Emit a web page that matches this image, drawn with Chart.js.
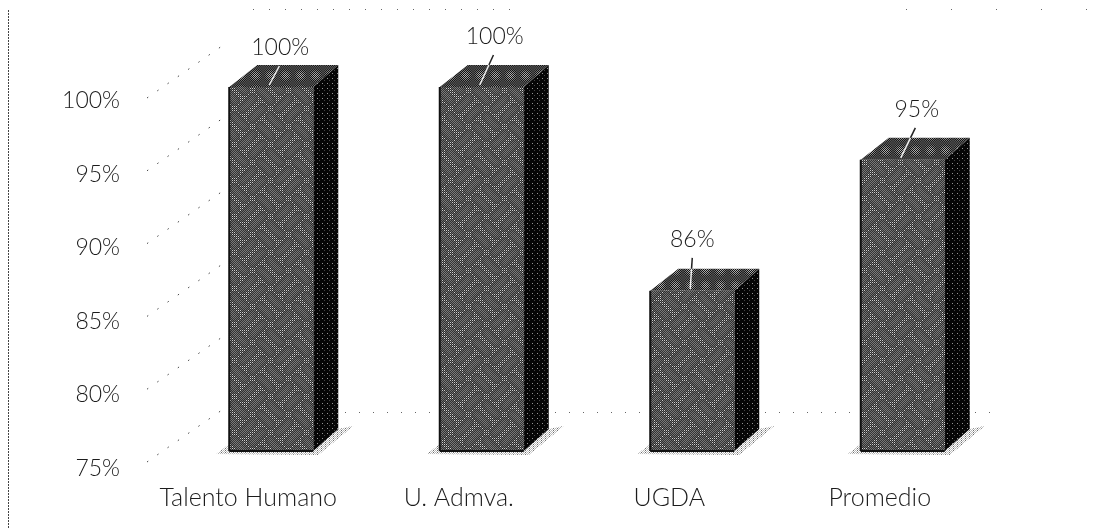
<!DOCTYPE html>
<html>
<head>
<meta charset="utf-8">
<style>
  html, body { margin: 0; padding: 0; background: #fff; }
  #wrap { width: 1115px; height: 529px; }
</style>
<script src="https://cdn.jsdelivr.net/npm/chart.js@4"></script>
</head>
<body>
<div id="wrap"><canvas id="barChart" width="1115" height="529"></canvas></div>
<script>
const categories = ['Talento Humano', 'U. Admva.', 'UGDA', 'Promedio'];
const values = [100, 100, 86, 95];
const tickValues = [75, 80, 85, 90, 95, 100];

const FONT = '300 23px Lato';
const TEXT = '#1c1c1c';
const DEPTH_X = 25;
const DEPTH_Y = 22;
// where each value label sits relative to the top front edge of its bar
const labelShift = [[9, -39], [13, -50], [0, -51], [14, -50]];

/* Halftone fills */
function makeTile(size, shade) {
  const c = document.createElement('canvas');
  c.width = c.height = size;
  const g = c.getContext('2d');
  const img = g.createImageData(size, size);
  for (let y = 0; y < size; y++) {
    for (let x = 0; x < size; x++) {
      const v = shade(x, y);
      const i = (y * size + x) * 4;
      img.data[i] = img.data[i + 1] = img.data[i + 2] = v;
      img.data[i + 3] = 255;
    }
  }
  g.putImageData(img, 0, 0);
  return g.createPattern(c, 'repeat');
}

const tau = Math.PI * 2;
const ctx = document.getElementById('barChart').getContext('2d');

// wavy cells: light specks follow the cell borders, grey tone fills the middle
const frontFill = makeTile(72, (x, y) => {
  const e = Math.sin(tau * x / 36 + 1.2 * Math.sin(tau * y / 36)) *
            Math.sin(tau * y / 36 + 1.2 * Math.sin(tau * x / 36));
  if (Math.abs(e) < 0.2 && x % 2 === 0 && y % 2 === 0) return 205;
  return (x + y) % 2 ? 42 + 12 * Math.abs(e) : 98 + 26 * Math.abs(e);
});
const sideFill = makeTile(15, (x, y) => {
  if (x % 5 === 2 && y % 5 === 3) return 150;
  if (x % 5 === 4 && y % 5 === 0) return 70;
  return 6;
});
const topFill = makeTile(60, (x, y) => {
  const f = tau * 28 / 60;
  const s = Math.cos(f * x) * Math.cos(f * y);
  return Math.max(16, Math.min(210, 62 + 120 * s));
});
const shadowFill = makeTile(4, (x, y) => {
  if ((x + y) % 2 === 0) return 255;
  return x % 4 === 1 ? 110 : 185;
});

function polygon(c, pts, fill) {
  c.beginPath();
  pts.forEach((p, i) => (i ? c.lineTo(p[0], p[1]) : c.moveTo(p[0], p[1])));
  c.closePath();
  c.fillStyle = fill;
  c.fill();
}

function dotted(c, x1, y1, x2, y2, dash, color) {
  c.save();
  c.beginPath();
  c.setLineDash(dash);
  c.strokeStyle = color;
  c.lineWidth = 1;
  c.moveTo(x1, y1);
  c.lineTo(x2, y2);
  c.stroke();
  c.restore();
}

/* Walls, floor shadows, and the depth faces of each column */
const box3d = {
  id: 'box3d',
  beforeDatasetsDraw(chart) {
    const c = chart.ctx;
    const y = chart.scales.y;
    const base = y.getPixelForValue(75);

    // page edge rule
    dotted(c, 8.5, 10, 8.5, 529, [2, 1], '#444');
    // top of the back wall
    dotted(c, 253, 9.5, 510, 9.5, [1, 15], '#666');
    dotted(c, 906, 9.5, 1090, 9.5, [1, 44], '#666');
    // floor line on the back wall
    dotted(c, 345, base - 38.5, 1000, base - 38.5, [1, 13], '#666');

    // side wall rules, one for each tick
    tickValues.forEach(v => {
      const py = y.getPixelForValue(v);
      dotted(c, 147, py + 11, 222, py - 41, [1.5, 11], '#444');
    });

    chart.getDatasetMeta(0).data.forEach(bar => {
      const left = bar.x - bar.width / 2;
      const right = bar.x + bar.width / 2;
      polygon(c, [
        [left - 13, bar.base + 3], [left, bar.base - 7], [right + DEPTH_X, bar.base - DEPTH_Y],
        [right + DEPTH_X + 15, bar.base - DEPTH_Y - 3], [right + 5, bar.base + 4]
      ], shadowFill);
      polygon(c, [
        [left, bar.y], [left + DEPTH_X + 3, bar.y - DEPTH_Y],
        [right + DEPTH_X, bar.y - DEPTH_Y], [right, bar.y]
      ], topFill);
      polygon(c, [
        [right, bar.y], [right + DEPTH_X, bar.y - DEPTH_Y],
        [right + DEPTH_X, bar.base - DEPTH_Y], [right, bar.base]
      ], sideFill);
    });
  },
  afterDatasetsDraw(chart) {
    const c = chart.ctx;
    const y = chart.scales.y;
    c.save();
    c.font = FONT;
    c.fillStyle = TEXT;

    // axis labels stand on the front of the floor, below their rule height
    c.textAlign = 'right';
    c.textBaseline = 'middle';
    tickValues.forEach(v => c.fillText(v + '%', 120, y.getPixelForValue(v) + 14 + (100 - v) * 0.14));

    c.textAlign = 'center';
    chart.getDatasetMeta(0).data.forEach((bar, i) => {
      const [dx, dy] = labelShift[i];
      c.fillText(values[i] + '%', bar.x + dx, bar.y + dy);

      // leader: dark above the column, white over it
      const topX = bar.x + dx * 0.9;
      const topY = bar.y + dy + 18;
      const endY = bar.y - 2;
      const t = (bar.y - DEPTH_Y - topY) / (endY - topY);
      const midX = topX + (bar.x - 2 - topX) * t;
      const midY = bar.y - DEPTH_Y;
      c.lineWidth = 1.5;
      if (topY < midY) {
        c.strokeStyle = '#222';
        c.beginPath();
        c.moveTo(topX, topY);
        c.lineTo(midX, midY);
        c.stroke();
      }
      c.strokeStyle = '#eee';
      c.beginPath();
      c.moveTo(topY < midY ? midX : topX, topY < midY ? midY : topY);
      c.lineTo(bar.x - 2, endY);
      c.stroke();

      // heavy front edges
      c.fillStyle = '#111';
      c.fillRect(bar.x - bar.width / 2 - 1, bar.y, 2, bar.base - bar.y);
      c.fillRect(bar.x - bar.width / 2, bar.base - 1, bar.width, 2);
      c.fillStyle = TEXT;
    });
    c.restore();
  }
};

new Chart(ctx, {
  type: 'bar',
  data: {
    labels: categories,
    datasets: [{
      data: values,
      base: 75,
      backgroundColor: frontFill,
      borderWidth: 0,
      barThickness: 84,
    }],
  },
  plugins: [box3d],
  options: {
    responsive: false,
    animation: false,
    layout: { padding: { left: 166, right: 107, top: 87, bottom: 0 } },
    plugins: { legend: { display: false }, tooltip: { enabled: false } },
    scales: {
      y: {
        display: false,
        min: 75,
        max: 100,
      },
      x: {
        grid: { display: false },
        border: { display: false },
        afterFit: s => { s.height = 78; },
        ticks: {
          color: TEXT,
          font: { family: 'Lato', size: 25, weight: 300 },
          padding: 24,
          labelOffset: -23,
          maxRotation: 0,
        },
      },
    },
  },
});
</script>
</body>
</html>
